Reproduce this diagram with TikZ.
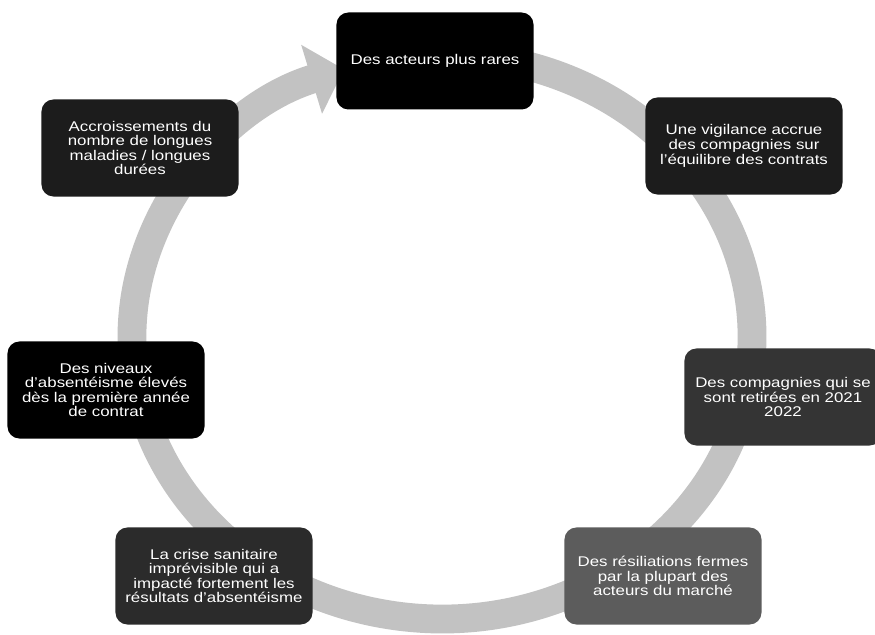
\documentclass[tikz,border=0pt]{standalone}
\usepackage{fontspec}
\setmainfont{Liberation Sans}[FakeStretch=1.2]
\usetikzlibrary{arrows.meta,calc}
\definecolor{Ring}{HTML}{C2C2C2}
\definecolor{Night}{HTML}{000000}
\definecolor{Coal}{HTML}{1C1C1C}
\definecolor{Soot}{HTML}{2B2B2B}
\definecolor{Slate}{HTML}{343434}
\definecolor{Ash}{HTML}{5C5C5C}

\begin{document}
\begin{tikzpicture}[x=0.025cm,y=0.025cm,
    b/.style={rounded corners=0.3cm,minimum width=4.925cm,minimum height=2.425cm,align=center,inner sep=1pt,text=white,font=\fontsize{10}{10.4}\selectfont},
    r/.style={draw=Ring,line width=0.72cm,-{Triangle[width=1.75cm,length=0.85cm]}}]
  \useasboundingbox (0,0) rectangle (875,635);
  \coordinate (ctr) at (442,298);
  \coordinate (tail) at ($(ctr)+(80:310 and 282)$);
  \draw[r] (tail) arc[start angle=80,end angle=-251.6,x radius=310,y radius=282];
  \node[b,fill=Night] (rares) at (435,574) {Des acteurs plus rares};
  \node[b,fill=Coal] (vigil) at (744,489) {Une vigilance accrue\\des compagnies sur\\l'équilibre des contrats};
  \node[b,fill=Slate] (retir) at (783,238) {Des compagnies qui se\\sont retirées en 2021\\2022};
  \node[b,fill=Ash] (resil) at (663,59) {Des résiliations fermes\\par la plupart des\\acteurs du marché};
  \node[b,fill=Soot] (crise) at (214,59) {La crise sanitaire\\imprévisible qui a\\impacté fortement les\\résultats d'absentéisme};
  \node[b,fill=Night] (niv) at (106,245) {Des niveaux\\d'absentéisme élevés\\dès la première année\\de contrat};
  \node[b,fill=Coal] (accr) at (140,487) {Accroissements du\\nombre de longues\\maladies / longues\\durées};
\end{tikzpicture}
\end{document}
